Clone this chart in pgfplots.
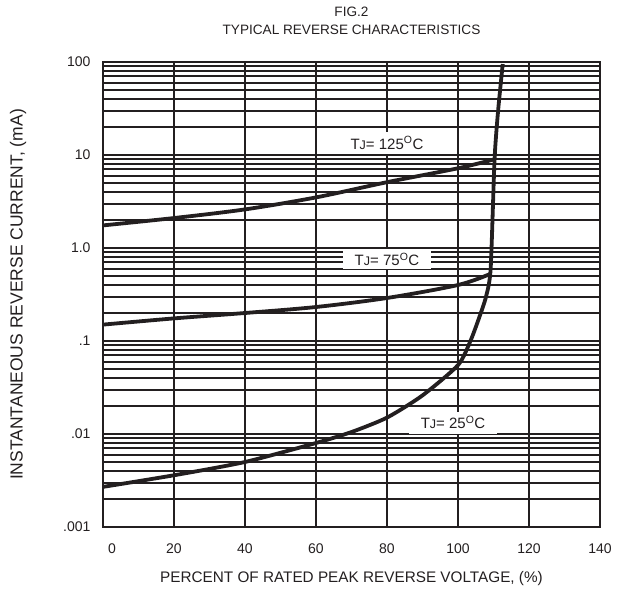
\documentclass[border=0pt]{standalone}
\usepackage{fontspec}
\setmainfont{Liberation Sans}
\usepackage{pgfplots}
\pgfplotsset{compat=1.18}
\definecolor{ink}{HTML}{231F20}

\begin{document}
\begin{tikzpicture}
\begin{axis}[
  name=ax,
  scale only axis, width=497pt, height=465pt,
  ymode=log,
  xmin=0, xmax=140, ymin=0.001, ymax=100,
  xtick={0,20,...,140},
  xticklabels={\hspace*{18pt}0,20,40,60,80,100,120,140},
  ytick={0.001,0.01,0.1,1,10,100},
  yticklabels={.001,.01,.1,1.0,10,100},
  minor ytick={0.002,0.003,0.004,0.005,0.006,0.007,0.008,0.009,
               0.02,0.03,0.04,0.05,0.06,0.07,0.08,0.09,
               0.2,0.3,0.4,0.5,0.6,0.7,0.8,0.9,
               2,3,4,5,6,7,8,9,20,30,40,50,60,70,80,90},
  xmajorgrids, ymajorgrids, yminorgrids,
  major grid style={ink, line width=1.9pt},
  minor grid style={ink, line width=1.9pt},
  major tick length=0pt, minor tick length=0pt,
  axis line style={ink, line width=2pt},
  tick label style={font=\fontsize{14}{16}\selectfont, text=ink},
  xticklabel style={yshift=-13pt},
  yticklabel style={xshift=-9pt},
  clip mode=individual,
]
% TJ = 125 C
\addplot[ink, line width=3.8pt, smooth, tension=0.5] coordinates {
  (0,1.75) (20,2.1) (40,2.6) (60,3.5) (80,5.1) (100,7.2) (110.3,9.0)};
% TJ = 75 C
\addplot[ink, line width=3.8pt, smooth, tension=0.5] coordinates {
  (0,0.15) (20,0.175) (40,0.2) (60,0.232) (80,0.29) (100,0.4) (109.3,0.53)};
% TJ = 25 C, running into the breakdown line
\addplot[ink, line width=3.8pt, smooth, tension=0.4] coordinates {
  (0,0.0027) (20,0.0036) (40,0.005) (60,0.008) (70,0.0105) (80,0.015)
  (90,0.026) (100,0.055) (103.5,0.1) (106,0.18) (107.9,0.3) (109.2,0.6)
  (110.3,9.0) (111.3,30) (112.6,95)};

\node[fill=white, inner sep=0pt, minimum width=80pt, minimum height=22pt,
  font=\fontsize{15}{17}\selectfont, text=ink]
  at (axis cs:80,13.5) {T{\fontsize{12.5}{14}\selectfont J}= 125\textsuperscript{O}C};
\node[fill=white, inner sep=0pt, minimum width=88pt, minimum height=20pt,
  font=\fontsize{15}{17}\selectfont, text=ink]
  at (axis cs:80,0.76) {T{\fontsize{12.5}{14}\selectfont J}= 75\textsuperscript{O}C};
\node[fill=white, inner sep=0pt, minimum width=88pt, minimum height=22pt,
  font=\fontsize{15}{17}\selectfont, text=ink]
  at (axis cs:98.6,0.0132) {T{\fontsize{12.5}{14}\selectfont J}= 25\textsuperscript{O}C};

\node[anchor=base, font=\fontsize{13.6}{15}\selectfont, text=ink]
  at ([yshift=45pt]rel axis cs:0.5,1) {FIG.2};
\node[anchor=base, font=\fontsize{13.6}{15}\selectfont, text=ink]
  at ([yshift=27pt]rel axis cs:0.5,1) {TYPICAL REVERSE CHARACTERISTICS};
\node[anchor=base, font=\fontsize{15.3}{17}\selectfont, text=ink]
  at ([yshift=-56pt]rel axis cs:0.5,0) {PERCENT OF RATED PEAK REVERSE VOLTAGE, (\%)};
\node[rotate=90, font=\fontsize{17.5}{19}\selectfont, text=ink]
  at ([xshift=-85pt]rel axis cs:0,0.5) {INSTANTANEOUS REVERSE CURRENT, (mA)};
\end{axis}
\pgfresetboundingbox
\path[use as bounding box] (ax.south west) ++(-103pt,-66pt) rectangle ++(627pt,593pt);
\end{tikzpicture}
\end{document}
